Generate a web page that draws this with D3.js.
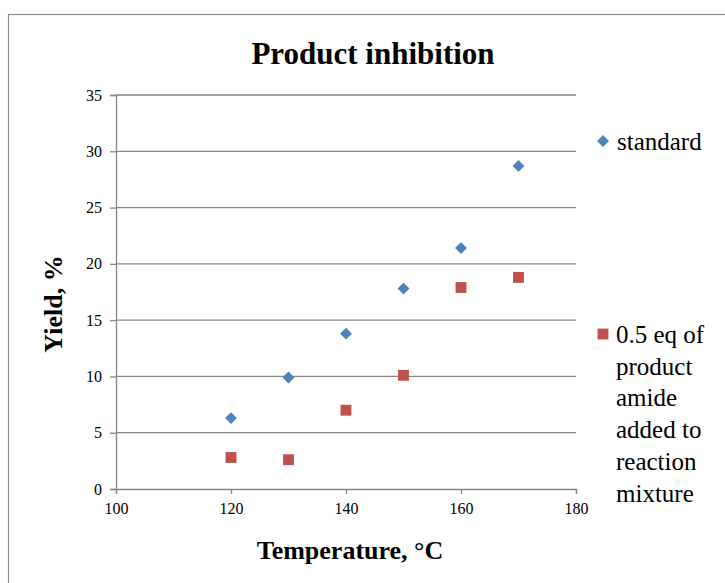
<!DOCTYPE html>
<html><head><meta charset="utf-8"><script src="https://cdn.jsdelivr.net/npm/d3@7"></script></head>
<body style="margin:0">
<svg id="fig" width="725" height="583"></svg>
<script>
const temperatures = [120, 130, 140, 150, 160, 170];
const standardYield = [6.3, 9.9, 13.8, 17.8, 21.4, 28.7];
const inhibitedYield = [2.8, 2.6, 7.0, 10.1, 17.9, 18.8];
const xTicks = [100, 120, 140, 160, 180];
const yTicks = [0, 5, 10, 15, 20, 25, 30, 35];
const seriesNames = ["standard", "0.5 eq of product amide added to reaction mixture"];
const legendLines2 = ["0.5 eq of", "product", "amide", "added to", "reaction", "mixture"];

const svg = d3.select("#fig");
const W = 725, H = 583;
const grid = "#868686";
const serif = "Liberation Serif";
const regFont = size => `normal normal 400 ${size}px "Liberation Serif", Tinos, "DejaVu Serif", serif`;

// outer chart border
svg.append("rect").attr("x", 8.5).attr("y", 14.5).attr("width", W).attr("height", H)
  .attr("fill", "none").attr("stroke", "#8c8c8c").attr("stroke-width", 1.2);

const x = d3.scaleLinear().domain([100, 180]).range([116, 576]);
const y = d3.scaleLinear().domain([0, 35]).range([489, 95]);

// gridlines
svg.append("g").selectAll("line").data(yTicks.filter(d => d > 0)).join("line")
  .attr("x1", x(100)).attr("x2", x(180))
  .attr("y1", d => y(d)).attr("y2", d => y(d))
  .attr("stroke", grid).attr("stroke-width", 1.3);

// axes
const yAxis = svg.append("g").attr("transform", `translate(${x(100)},0)`)
  .call(d3.axisLeft(y).tickValues(yTicks).tickSize(6).tickPadding(8).tickFormat(d3.format("d")));
const xAxis = svg.append("g").attr("transform", `translate(0,${y(0)})`)
  .call(d3.axisBottom(x).tickValues(xTicks).tickSize(5).tickPadding(9).tickFormat(d3.format("d")));

[yAxis, xAxis].forEach(a => {
  a.attr("font-family", serif).attr("font-size", 16);
  a.select(".domain").attr("stroke", grid).attr("stroke-width", 1.3);
  a.selectAll(".tick line").attr("stroke", grid).attr("stroke-width", 1.3);
  a.selectAll(".tick text").attr("fill", "#000").attr("font-family", serif).attr("font-size", 16)
    .style("font", regFont(16));
});

// series
const blue = "#4F81BD", red = "#C0504D";
const diamond = d3.symbol().type(d3.symbolDiamond2).size(90);
const square = d3.symbol().type(d3.symbolSquare2).size(150);

svg.append("g").selectAll("path").data(temperatures.map((t, i) => [t, standardYield[i]])).join("path")
  .attr("d", diamond)
  .attr("transform", d => `translate(${x(d[0])},${y(d[1])})`)
  .attr("fill", blue);

svg.append("g").selectAll("path").data(temperatures.map((t, i) => [t, inhibitedYield[i]])).join("path")
  .attr("d", square)
  .attr("transform", d => `translate(${x(d[0])},${y(d[1])})`)
  .attr("fill", red);

// title
svg.append("text").attr("x", 373).attr("y", 64).attr("text-anchor", "middle").attr("font-family", serif)
  .attr("font-size", 31).attr("font-weight", "bold").text("Product inhibition");

// axis titles
svg.append("text").attr("x", 350).attr("y", 559).attr("text-anchor", "middle").attr("font-family", serif)
  .attr("font-size", 26).attr("font-weight", "bold").text("Temperature, °C");
svg.append("text").attr("transform", "translate(62,304) rotate(-90)").attr("text-anchor", "middle")
  .attr("font-family", serif).attr("font-size", 26).attr("font-weight", "bold").text("Yield, %");

// legend
const lg = svg.append("g");
lg.append("path").attr("d", diamond).attr("transform", "translate(603,141)").attr("fill", blue);
lg.append("text").attr("x", 617).attr("y", 150).attr("font-family", serif).attr("font-size", 25)
  .style("font", regFont(25)).text(seriesNames[0]);
lg.append("path").attr("d", square).attr("transform", "translate(603,334)").attr("fill", red);
legendLines2.forEach((s, i) => {
  lg.append("text").attr("x", 616).attr("y", 343 + i * 31.7)
    .attr("font-family", serif).attr("font-size", 25).style("font", regFont(25)).text(s);
});
</script>
</body>
</html>
